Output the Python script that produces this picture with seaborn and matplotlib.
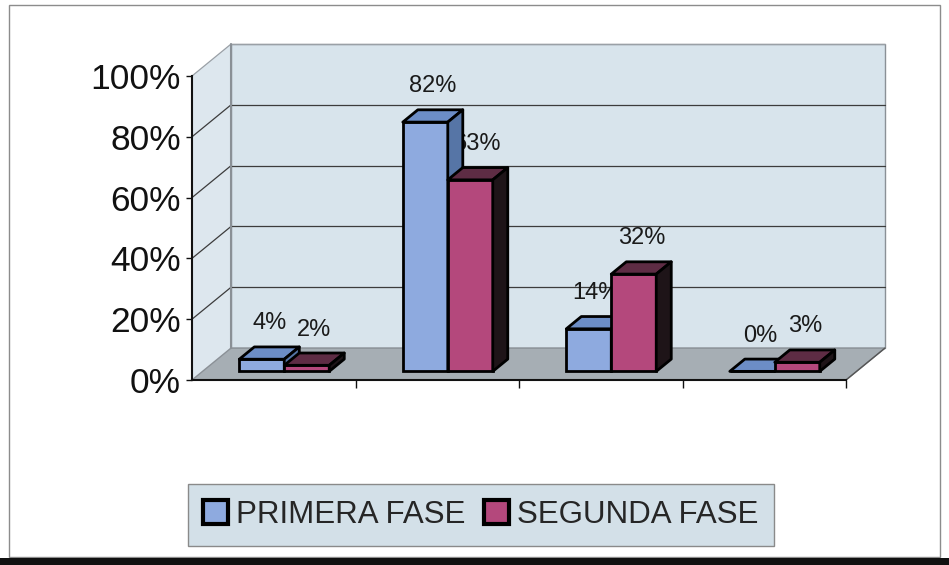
import numpy as np
import pandas as pd
import matplotlib
matplotlib.use("Agg")
import matplotlib.pyplot as plt
from matplotlib.patches import Polygon, Rectangle
from matplotlib.ticker import PercentFormatter
import seaborn as sns

categories = ["1", "2", "3", "4"]
series = ["PRIMERA FASE", "SEGUNDA FASE"]
primera = [0.04, 0.82, 0.14, 0.00]
segunda = [0.02, 0.63, 0.32, 0.03]

front_colors = ["#8eaadf", "#b4487c"]
top_colors = ["#6c8dc6", "#5e2c44"]
side_colors = ["#5675a6", "#1e1418"]

# fake 3d: depth shift in data units (1 category wide, y from 0 to 1)
DX, DY = 0.2385, 0.105
z0, z1 = 0.27, 0.655

df = pd.DataFrame({
    "cat": categories * 2,
    "fase": [series[0]] * len(categories) + [series[1]] * len(categories),
    "valor": primera + segunda,
})

sns.set_theme(style="white")
plt.rcParams["font.family"] = ["Liberation Sans", "DejaVu Sans"]

fig = plt.figure(figsize=(9.49, 5.65), dpi=100)
ax = fig.add_axes([192 / 949, 1 - 380 / 565, 654 / 949, 304 / 565])

sns.barplot(data=df, x="cat", y="valor", hue="fase", palette=front_colors, saturation=1,
            width=0.55, edgecolor="black", linewidth=2, ax=ax)
handles, labels = ax.get_legend_handles_labels()
ax.get_legend().remove()

xl, xr = -0.5, len(categories) - 0.5
ax.set_xlim(xl, xr)
ax.set_ylim(0, 1)
ax.patch.set_visible(False)

# walls and floor
wall = "#d8e4ec"
ax.add_patch(Rectangle((xl + DX, DY), xr - xl, 1.0, facecolor=wall, edgecolor="#8a9096",
                       lw=1, clip_on=False, zorder=0.5))
ax.add_patch(Polygon([(xl, 0), (xl + DX, DY), (xl + DX, 1 + DY), (xl, 1)], closed=True,
                     facecolor="#dde7ee", edgecolor="none", clip_on=False, zorder=0.5))
ax.add_patch(Polygon([(xl, 0), (xr, 0), (xr + DX, DY), (xl + DX, DY)], closed=True,
                     facecolor="#a6aeb4", edgecolor="#8a9096", lw=1, clip_on=False, zorder=0.6))
for t in [0.2, 0.4, 0.6, 0.8, 1.0]:
    c = "#3c3c3c" if t < 1 else "#9aa0a6"
    ax.plot([xl + DX, xr + DX], [t + DY, t + DY], color=c, lw=0.9, clip_on=False, zorder=0.7)
    ax.plot([xl, xl + DX], [t, t + DY], color=c, lw=0.9, clip_on=False, zorder=0.7)
ax.plot([xl + DX, xl + DX], [DY, 1 + DY], color="#8a9096", lw=1.5, clip_on=False, zorder=0.7)
ax.plot([xr, xr + DX], [0, DY], color="#555555", lw=1, clip_on=False, zorder=0.7)

# bars: shift the front face back a bit, then add top and side faces
for i, cont in enumerate(ax.containers):
    for bar in cont:
        x, w, h = bar.get_x(), bar.get_width(), bar.get_height()
        x0, y0 = x + z0 * DX, z0 * DY
        x1, y1 = x0 + w, y0 + h
        ddx, ddy = (z1 - z0) * DX, (z1 - z0) * DY
        bar.set_x(x0)
        bar.set_y(y0)
        bar.set_zorder(3 + i)
        bar.set_clip_on(False)
        ax.add_patch(Polygon([(x0, y1), (x1, y1), (x1 + ddx, y1 + ddy), (x0 + ddx, y1 + ddy)],
                             closed=True, facecolor=top_colors[i], edgecolor="black", lw=2,
                             joinstyle="round", clip_on=False, zorder=3 + i))
        ax.add_patch(Polygon([(x1, y0), (x1 + ddx, y0 + ddy), (x1 + ddx, y1 + ddy), (x1, y1)],
                             closed=True, facecolor=side_colors[i], edgecolor="black", lw=2,
                             joinstyle="round", clip_on=False, zorder=3 + i))
        ax.annotate(f"{h:.0%}", (x0 + w / 2 + ddx / 2, y1 + ddy), xytext=(0, 9),
                    textcoords="offset points", ha="center", va="bottom",
                    fontsize=17, color="#1a1a1a", zorder=1, annotation_clip=False)

ax.set_xlabel("")
ax.set_ylabel("")
ax.set_xticks(np.arange(len(categories)) + 0.5)
ax.set_xticklabels([])
ax.set_yticks([0, 0.2, 0.4, 0.6, 0.8, 1.0])
ax.yaxis.set_major_formatter(PercentFormatter(1.0, decimals=0))
ax.tick_params(axis="y", labelsize=25.5, length=4, width=1, colors="#111111", left=True, pad=4)
ax.tick_params(axis="x", length=6, width=1, bottom=True, colors="#111111")
for s in ["top", "right"]:
    ax.spines[s].set_visible(False)
for s in ["left", "bottom"]:
    ax.spines[s].set_color("#111111")
    ax.spines[s].set_linewidth(1.5)
    ax.spines[s].set_zorder(2)

leg = fig.legend(handles, labels, loc="center", bbox_to_anchor=(481 / 949, 1 - 515 / 565),
                 ncol=2, fontsize=22.5, frameon=True, fancybox=False, facecolor="#d3e0e8",
                 edgecolor="#8a8a8a", framealpha=1, handlelength=0.8, handleheight=0.8,
                 handletextpad=0.25, columnspacing=0.6, borderpad=0.5, borderaxespad=0)
for hnd in leg.legend_handles:
    hnd.set_linewidth(3)

fig.add_artist(Rectangle((9 / 949, 1 - 557 / 565), 931 / 949, 552 / 565, transform=fig.transFigure,
                         fill=False, edgecolor="#8c8c8c", lw=1))
fig.add_artist(Rectangle((0, 0), 1, 7 / 565, transform=fig.transFigure,
                         facecolor="#111111", edgecolor="none"))

fig.savefig("out.png", dpi=100)
